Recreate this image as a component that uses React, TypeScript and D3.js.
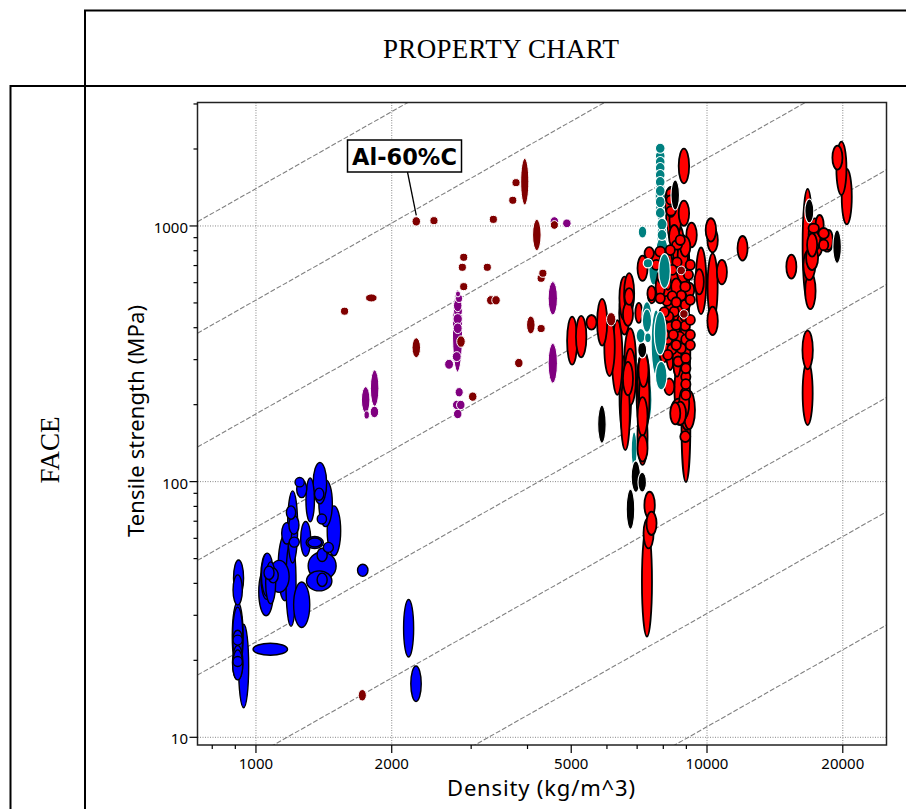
import React from "react";
import * as d3 from "d3";

type Bubble = [number, number, number, number]; // density, strength, density factor, strength factor

const blueBubbles: Bubble[] = [
  [915, 41.9, 1.026, 1.179], [911, 37.7, 1.024, 1.145], [911, 24.9, 1.028, 1.36], [911, 25.1, 1.026, 1.287],
  [939, 19.0, 1.026, 1.456], [911, 24.0, 1.024, 1.046], [911, 24.7, 1.022, 1.062], [911, 19.8, 1.024, 1.046],
  [911, 19.2, 1.026, 1.145], [911, 19.6, 1.027, 1.165], [1076, 22.1, 1.092, 1.056], [1053, 37.1, 1.038, 1.241],
  [1060, 43.2, 1.031, 1.216], [1069, 44, 1.026, 1.062], [1092, 42.9, 1.026, 1.068], [1056, 42.6, 1.03, 1.23],
  [1078, 40.2, 1.026, 1.208], [1126, 42.6, 1.052, 1.155], [1159, 46, 1.035, 1.346], [1196, 40.1, 1.026, 1.477],
  [1263, 33, 1.042, 1.227], [1196, 75.7, 1.024, 1.062], [1214, 67.7, 1.026, 1.087], [1170, 62.8, 1.026, 1.101],
  [1216, 58, 1.026, 1.046], [1206, 66.5, 1.026, 1.383], [1250, 99.5, 1.024, 1.043], [1263, 93.6, 1.026, 1.081],
  [1319, 84.8, 1.022, 1.219], [1386, 98.6, 1.035, 1.205], [1381, 89.3, 1.024, 1.056], [1427, 82.3, 1.035, 1.234],
  [1400, 71.4, 1.024, 1.046], [1489, 64.2, 1.035, 1.252], [1289, 59.7, 1.026, 1.169], [1350, 57.8, 1.045, 1.056],
  [1350, 57.8, 1.036, 1.041], [1447, 55.3, 1.026, 1.046], [1402, 46.8, 1.074, 1.134], [1402, 51.7, 1.026, 1.062],
  [1381, 40.9, 1.067, 1.094], [1402, 41.3, 1.026, 1.062], [1725, 45, 1.027, 1.056], [2180, 26.7, 1.026, 1.295],
  [2264, 16.2, 1.027, 1.173],
];

const purpleBubbles: Bubble[] = [
  [1751, 208.7, 1.022, 1.127], [1833, 231.9, 1.022, 1.179], [1831, 187.3, 1.022, 1.053], [1760, 182.3, 1.014, 1.037],
  [2798, 388.5, 1.026, 1.447], [2805, 542, 1.013, 1.027], [2820, 520.6, 1.018, 1.037], [2801, 487.9, 1.022, 1.056],
  [2805, 465, 1.023, 1.056], [2801, 432.8, 1.024, 1.049], [2801, 398, 1.023, 1.049], [2787, 308.3, 1.023, 1.046],
  [2680, 287.7, 1.023, 1.046], [2822, 223.7, 1.021, 1.043], [2787, 199.5, 1.022, 1.043], [2845, 199.5, 1.022, 1.043],
  [2801, 183.9, 1.022, 1.043], [4551, 521.4, 1.024, 1.162], [4551, 290.5, 1.024, 1.197], [4588, 1039, 1.022, 1.046],
  [4890, 1024, 1.022, 1.04],
];

const darkRedBubbles: Bubble[] = [
  [2267, 1042, 1.022, 1.043], [2481, 1049, 1.021, 1.037], [3360, 1061, 1.021, 1.037], [3710, 1260, 1.021, 1.037],
  [3772, 1477, 1.021, 1.037], [3944, 1490, 1.021, 1.234], [4195, 922, 1.022, 1.152], [2888, 754, 1.021, 1.037],
  [2868, 689, 1.021, 1.037], [3258, 689, 1.021, 1.037], [4326, 653, 1.021, 1.037], [4288, 624, 1.021, 1.037],
  [2888, 579, 1.021, 1.037], [1802, 523, 1.03, 1.037], [1572, 464, 1.021, 1.037], [3316, 512, 1.022, 1.043],
  [3406, 512, 1.022, 1.043], [4068, 410, 1.022, 1.084], [4288, 397, 1.021, 1.037], [2267, 334, 1.022, 1.094],
  [2848, 353, 1.022, 1.053], [3826, 291, 1.022, 1.043], [3024, 215, 1.022, 1.043], [1721, 14.6, 1.021, 1.053],
  [6131, 431.5, 1.024, 1.062], [8767, 670, 1.022, 1.04], [8888, 452.6, 1.022, 1.04], [4588, 1009, 1.021, 1.04],
];

const tealBackBubbles: Bubble[] = [
  [7395, 208.7, 1.021, 1.219], [6893, 133, 1.015, 1.176], [7610, 672.8, 1.024, 1.145], [7876, 1298, 1.026, 1.252],
];

const tealBubbles: Bubble[] = [
  [7876, 2013, 1.025, 1.046], [7876, 1878, 1.025, 1.05], [7876, 1780, 1.025, 1.05], [7876, 1686, 1.025, 1.05],
  [7876, 1583, 1.025, 1.05], [7876, 1486, 1.025, 1.05], [7876, 1371, 1.025, 1.05], [7876, 1242, 1.025, 1.056],
  [7876, 1125, 1.025, 1.05], [7947, 1015, 1.026, 1.056], [7947, 922, 1.025, 1.05],
  [7947, 908, 1.026, 1.165], [7195, 947, 1.022, 1.056],
  [7947, 805.6, 1.031, 1.124], [7715, 349, 1.026, 1.346],
];

const tealTopBubbles: Bubble[] = [
  [7876, 380.6, 1.031, 1.216], [7360, 442, 1.026, 1.145], [7360, 426, 1.024, 1.111], [7130, 372, 1.024, 1.068],
  [7395, 365, 1.017, 1.046], [7395, 715, 1.024, 1.043], [8050, 667, 1.03, 1.169], [7916, 259.6, 1.03, 1.137],
];

const blackBubbles: Bubble[] = [
  [5848, 167.7, 1.022, 1.187], [7184, 327.4, 1.023, 1.075], [8503, 1322, 1.022, 1.145], [16860, 1145, 1.023, 1.114],
  [19430, 830, 1.022, 1.162], [6954, 104.6, 1.024, 1.152], [7184, 99.5, 1.022, 1.094], [6766, 78, 1.022, 1.197],
];

const redBubbles: Bubble[] = [
  [16715, 843, 1.026, 1.656], [15382, 693, 1.026, 1.114], [16950, 557, 1.027, 1.179], [16860, 704, 1.031, 1.145],
  [17100, 749, 1.031, 1.114], [17100, 843, 1.026, 1.111], [17320, 922, 1.031, 1.162], [17240, 979, 1.027, 1.043],
  [17770, 1009, 1.021, 1.094], [18140, 936, 1.027, 1.049], [18140, 843, 1.024, 1.049], [18470, 868, 1.03, 1.094],
  [18620, 881.5, 1.021, 1.094], [17480, 868, 1.035, 1.145], [16715, 327.4, 1.027, 1.19], [16715, 222, 1.026, 1.334],
  [19460, 1850, 1.026, 1.114], [19860, 1681, 1.026, 1.272], [20410, 1302, 1.026, 1.283],
  [8888, 1716, 1.027, 1.169], [8320, 1343, 1.024, 1.043], [8320, 1264, 1.024, 1.043], [8320, 1145, 1.024, 1.043],
  [8320, 1242, 1.031, 1.145], [8503, 1055, 1.03, 1.162], [8888, 1121, 1.027, 1.121], [9242, 922, 1.027, 1.117],
  [8460, 908, 1.027, 1.111], [8580, 843, 1.026, 1.043], [8840, 770, 1.027, 1.145], [8950, 830, 1.026, 1.094],
  [7876, 794, 1.026, 1.046], [7445, 782, 1.024, 1.056], [7195, 683, 1.026, 1.121], [7720, 704, 1.024, 1.046],
  [7720, 747, 1.024, 1.062], [8580, 633, 1.035, 1.124], [8767, 615, 1.042, 1.145], [8856, 673, 1.034, 1.124],
  [8545, 579, 1.026, 1.078], [8950, 579, 1.026, 1.046], [9150, 562, 1.024, 1.068], [7876, 579, 1.024, 1.111],
  [7947, 633, 1.024, 1.062], [7533, 546, 1.021, 1.068],
  [7876, 521, 1.024, 1.046], [8150, 509, 1.024, 1.046], [8767, 534, 1.024, 1.046], [8545, 503, 1.024, 1.046],
  [8950, 491, 1.024, 1.046], [8289, 476, 1.024, 1.046], [8460, 462, 1.024, 1.046], [8723, 469, 1.024, 1.046],
  [8950, 442, 1.024, 1.046], [8226, 442, 1.024, 1.046], [7876, 406, 1.024, 1.046], [8545, 410, 1.024, 1.046],
  [8950, 407, 1.024, 1.046], [8289, 404, 1.024, 1.046], [8180, 360, 1.024, 1.046], [8690, 369, 1.024, 1.046],
  [8975, 360, 1.024, 1.046], [8360, 329, 1.024, 1.046], [8767, 332, 1.024, 1.046], [8975, 304, 1.024, 1.046],
  [8975, 277.6, 1.024, 1.046], [8975, 257, 1.024, 1.046], [8975, 240.5, 1.024, 1.046], [8975, 218.4, 1.024, 1.046],
  [8040, 460, 1.024, 1.046], [9181, 514, 1.024, 1.046], [9181, 429, 1.024, 1.046], [8040, 375, 1.024, 1.046],
  [8545, 342, 1.024, 1.046], [9181, 375, 1.024, 1.046], [8375, 532, 1.024, 1.046], [8810, 429, 1.024, 1.046],
  [8420, 375, 1.024, 1.046], [9181, 342, 1.024, 1.046], [8190, 313, 1.024, 1.046], [8630, 295, 1.024, 1.046],
  [8375, 673, 1.024, 1.046], [9181, 704, 1.024, 1.046], [8040, 736, 1.024, 1.046], [8580, 721, 1.024, 1.046],
  [9095, 644, 1.024, 1.046], [8289, 805, 1.024, 1.046], [8723, 881, 1.024, 1.046],
  [8503, 513.6, 1.031, 1.5], [8856, 513.6, 1.031, 1.5], [8289, 358, 1.026, 1.31], [8950, 327, 1.026, 1.433],
  [8630, 392, 1.036, 1.569], [8856, 736, 1.031, 1.252], [8190, 562, 1.026, 1.197], [8370, 1098, 1.031, 1.252],
  [8630, 843, 1.031, 1.197], [8190, 673, 1.026, 1.197],
  [8247, 235, 1.026, 1.078], [8010, 349, 1.026, 1.197], [8580, 308, 1.022, 1.197], [8690, 228, 1.026, 1.275],
  [8503, 185, 1.026, 1.104], [8723, 185, 1.03, 1.111], [8900, 202.5, 1.026, 1.145], [9130, 190.7, 1.03, 1.19],
  [8950, 150, 1.026, 1.05], [8980, 174.3, 1.023, 1.748], [8660, 187.8, 1.042, 1.124], [9030, 187.8, 1.035, 1.179],
  [9700, 610, 1.027, 1.35], [9610, 605, 1.024, 1.121], [10200, 965, 1.027, 1.111], [10290, 881, 1.027, 1.117],
  [10290, 579, 1.026, 1.35], [10790, 660, 1.026, 1.117], [10290, 425, 1.027, 1.137], [11990, 818, 1.026, 1.117],
  [5023, 356, 1.026, 1.242], [5260, 369, 1.027, 1.205], [5545, 420, 1.026, 1.068], [5855, 420, 1.026, 1.234],
  [6080, 337, 1.027, 1.302], [6325, 306, 1.027, 1.4], [6560, 521, 1.026, 1.216], [6720, 546, 1.026, 1.197],
  [6720, 530, 1.024, 1.078], [6680, 452, 1.026, 1.111], [6560, 457, 1.027, 1.216], [6756, 299, 1.03, 1.331],
  [6756, 257, 1.03, 1.29], [6680, 253, 1.026, 1.162], [6590, 215, 1.03, 1.456], [6590, 185, 1.023, 1.392],
  [7230, 242.6, 1.031, 1.35], [7195, 222, 1.031, 1.433], [7230, 273, 1.026, 1.162], [7260, 212, 1.027, 1.35],
  [7195, 180, 1.026, 1.19], [7195, 135, 1.026, 1.127], [7195, 150, 1.026, 1.29], [7460, 81, 1.027, 1.127],
  [7533, 68.7, 1.026, 1.111], [7420, 62.8, 1.026, 1.145], [7360, 40.7, 1.026, 1.642], [7060, 457, 1.018, 1.094],
  [7545, 537, 1.021, 1.078],
];

const guideRatios = [1.4, 0.513, 0.184, 0.0663, 0.0236, 0.00853, 0.00305, 0.0011];
const xTicks = [800, 900, 1000, 2000, 3000, 4000, 5000, 6000, 7000, 8000, 9000, 10000, 20000];
const xLabels = [1000, 2000, 5000, 10000, 20000];
const xGrid = [1000, 2000, 10000, 20000];
const yTicks = [10, 20, 30, 40, 50, 60, 70, 80, 90, 100, 200, 300, 400, 500, 600, 700, 800, 900, 1000, 2000, 3000];
const yLabels = [10, 100, 1000];
const calloutPoint = [2267, 1042];
const titleText = "PROPERTY CHART";
const sideText = "FACE";
const calloutText = "Al-60%C";

const L = 197.5, R = 886.5, T = 102.5, B = 745;
const x = d3.scaleLog().domain([742, 25000]).range([L, R]);
const y = d3.scaleLog().domain([9.33, 3040]).range([B, T]);
const sans = "'Noto Sans', sans-serif";
const serif = "'Liberation Serif', serif";

const toMarks = (groups: [Bubble[], string, string, number][]) =>
  groups
    .flatMap(([rows, fill, stroke, sw]) =>
      rows.map(([d, s, fx, fy]) => ({
        cx: x(d),
        cy: y(s),
        rx: (x(d * fx) - x(d / fx)) / 2,
        ry: (y(s / fy) - y(s * fy)) / 2,
        fill, stroke, sw,
      })))
    .sort((a, b) => d3.descending(a.rx * a.ry, b.rx * b.ry));

const backMarks = toMarks([[tealBackBubbles, "#008080", "#fff", 1.1]]);
const frontMarks = toMarks([
  [blueBubbles, "#0000ff", "#000", 1.4],
  [purpleBubbles, "#800080", "#fff", 1],
  [tealBubbles, "#008080", "#fff", 1.1],
  [redBubbles, "#ff0000", "#000", 1.8],
]);
const topMarks = toMarks([
  [tealTopBubbles, "#008080", "#fff", 1.2],
  [darkRedBubbles, "#800000", "#fff", 1],
  [blackBubbles, "#000", "#fff", 1.1],
]);
const marks = [...backMarks, ...frontMarks, ...topMarks];

export default function App() {
  const [xa, xb] = x.domain();
  return (
    <svg width={906} height={809} style={{ position: "absolute", left: 0, top: 0, background: "#fff" }}>
      <defs>
        <clipPath id="plot"><rect x={L} y={T} width={R - L} height={B - T} /></clipPath>
      </defs>
      <g stroke="#000" strokeWidth={2} fill="none">
        <path d="M85 809V10.5H906" />
        <path d="M10.5 809V86H906" />
      </g>
      <text x={501} y={58} textAnchor="middle" fontFamily={serif} fontSize={27} textLength={236}>{titleText}</text>
      <text transform="translate(58.5,450) rotate(-90)" textAnchor="middle" fontFamily={serif} fontSize={27}>{sideText}</text>

      {xGrid.map((t) => (
        <line key={t} x1={x(t)} x2={x(t)} y1={T} y2={B} stroke="#888" strokeWidth={1} strokeDasharray="1 1.5" />
      ))}
      {yLabels.map((t) => (
        <line key={t} x1={L} x2={R} y1={y(t)} y2={y(t)} stroke="#888" strokeWidth={1} strokeDasharray="1 1.5" />
      ))}
      <g clipPath="url(#plot)">
        {guideRatios.map((r) => (
          <path
            key={r}
            d={`M${x(xa)} ${y(xa * r)}L${x(xb)} ${y(xb * r)}`}
            fill="none"
            stroke="#808080"
            strokeWidth={1.1}
            strokeDasharray="5 2"
          />
        ))}
        {marks.map((m, i) => (
          <ellipse key={i} cx={m.cx} cy={m.cy} rx={m.rx} ry={m.ry} fill={m.fill} stroke={m.stroke} strokeWidth={m.sw} />
        ))}
      </g>

      <rect x={L} y={T} width={R - L} height={B - T} fill="none" stroke="#222" strokeWidth={1.5} />
      {xTicks.map((t) => (
        <line key={t} x1={x(t)} x2={x(t)} y1={B} y2={B + (xLabels.includes(t) ? 8 : 4)} stroke="#000" strokeWidth={1.2} />
      ))}
      {yTicks.map((t) => (
        <line key={t} x1={L} x2={L - (yLabels.includes(t) ? 8 : 4)} y1={y(t)} y2={y(t)} stroke="#000" strokeWidth={1.2} />
      ))}
      {xLabels.map((t) => (
        <text key={t} x={x(t)} y={769} textAnchor="middle" fontFamily={sans} fontSize={15}>{t}</text>
      ))}
      {yLabels.map((t) => (
        <text key={t} x={188} y={y(t) + 7} textAnchor="end" fontFamily={sans} fontSize={15}>{t}</text>
      ))}
      <text x={541} y={796} textAnchor="middle" fontFamily={sans} fontSize={22} textLength={188}>Density (kg/m^3)</text>
      <text transform="translate(144,421) rotate(-90)" textAnchor="middle" fontFamily={sans} fontSize={22} textLength={232}>Tensile strength (MPa)</text>

      <line x1={407.5} y1={172} x2={x(calloutPoint[0])} y2={y(calloutPoint[1]) - 6} stroke="#000" strokeWidth={1.3} />
      <rect x={347.5} y={140} width={114} height={32} fill="#fff" stroke="#000" strokeWidth={1.5} />
      <text x={404.5} y={165} textAnchor="middle" fontFamily="'DejaVu Sans', sans-serif" fontWeight={700} fontSize={22.5}>{calloutText}</text>
    </svg>
  );
}
